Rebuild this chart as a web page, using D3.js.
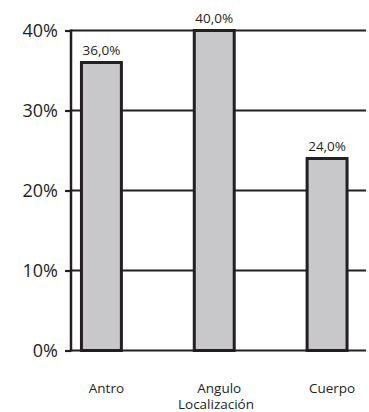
<!DOCTYPE html>
<html><head><meta charset="utf-8">
<script src="https://cdn.jsdelivr.net/npm/d3@7"></script>
<style>html,body{margin:0;padding:0;background:#fff;}svg{display:block;}</style>
</head><body>
<script>
const categories = ["Antro", "Angulo", "Cuerpo"];
const values = [36.0, 40.0, 24.0];
const valueLabels = ["36,0%", "40,0%", "24,0%"];
const yTicks = [0, 10, 20, 30, 40];
const yTickLabels = ["0%", "10%", "20%", "30%", "40%"];
const axisTitle = "Localización";

const W = 369, H = 412;
const ink = "#231f20";
const font = "'Open Sans', 'DejaVu Sans', sans-serif";
const svg = d3.select("body").append("svg").attr("width", W).attr("height", H);

const y = d3.scaleLinear().domain([0, 40]).range([350.5, 30.5]);
const x = d3.scaleBand().domain(categories).range([45, 383.5])
  .paddingInner(0.646).paddingOuter(0.323);
const axisX = 71, rightX = 366;

// gridlines
svg.append("g").selectAll("line").data(yTicks).join("line")
  .attr("x1", axisX).attr("x2", rightX)
  .attr("y1", d => y(d)).attr("y2", d => y(d))
  .attr("stroke", ink).attr("stroke-width", 2.2);

// y axis via d3.axisLeft
const yAxis = svg.append("g").attr("transform", `translate(${axisX},0)`)
  .call(d3.axisLeft(y).tickValues(yTicks).tickSize(6).tickPadding(7)
    .tickFormat((d, i) => yTickLabels[i]));
yAxis.select(".domain").attr("stroke", ink).attr("stroke-width", 2.5)
  .attr("d", `M0,${y(0)+1}V${y(40)-1}`);
yAxis.selectAll(".tick line").attr("stroke", ink).attr("stroke-width", 2.2);
yAxis.selectAll(".tick text").attr("fill", ink).attr("font-family", font)
  .attr("font-size", 18).attr("dy", "0.36em").attr("x", -13);

// bars
svg.append("g").selectAll("rect").data(values).join("rect")
  .attr("x", (d, i) => x(categories[i]))
  .attr("width", x.bandwidth())
  .attr("y", d => y(d))
  .attr("height", d => y(0) - y(d))
  .attr("fill", "#c8c8ca").attr("stroke", ink).attr("stroke-width", 3);

// value labels
svg.append("g").selectAll("text").data(values).join("text")
  .attr("x", (d, i) => x(categories[i]) + x.bandwidth() / 2)
  .attr("y", d => y(d) - 8)
  .attr("text-anchor", "middle").attr("fill", ink)
  .attr("font-family", font).attr("font-size", 13.5)
  .text((d, i) => valueLabels[i]);

// category labels
svg.append("g").selectAll("text").data(categories).join("text")
  .attr("x", d => x(d) + x.bandwidth() / 2 + 5)
  .attr("y", 392.5)
  .attr("text-anchor", "middle").attr("fill", ink)
  .attr("font-family", font).attr("font-size", 13.5)
  .text(d => d);

// axis title
svg.append("text").attr("x", 216).attr("y", 409)
  .attr("text-anchor", "middle").attr("fill", ink)
  .attr("font-family", font).attr("font-size", 13.5)
  .text(axisTitle);
</script>
</body></html>
